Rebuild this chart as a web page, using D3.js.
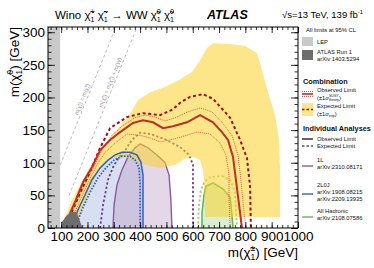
<!DOCTYPE html>
<html>
<head>
<meta charset="utf-8">
<script src="https://cdn.jsdelivr.net/npm/d3@7"></script>
<style>
body { margin: 0; background: #fff; }
svg { display: block; font-family: "Liberation Sans", Arial, Helvetica, sans-serif; }
</style>
</head>
<body>
<svg id="chart" width="374" height="268"></svg>
<script>
// ticks
var xTicks = [100, 200, 300, 400, 500, 600, 700, 800, 900, 1000];
var yTicks = [0, 50, 100, 150, 200, 250, 300];

// kinematic limits and previous results (GeV)
var lepLimit = 96;
var mW = 80.4;
var run1 = [[99, 0], [103, 9], [118, 18], [137, 25], [156, 25], [168, 15], [175, 6], [183, 0]];

// combination: expected band edges, expected, observed and theory +-1 sigma
var expBandUp = [[107, 0], [118, 20], [141, 43], [172, 66], [202, 89], [248, 116], [286, 138], [324, 156],
    [362, 175], [392, 196], [438, 208], [495, 216], [552, 228], [597, 239], [628, 257], [654, 276],
    [677, 283], [742, 282], [799, 279], [844, 268], [863, 242], [886, 208], [913, 173], [928, 135],
    [932, 89], [932, 17]];
var expBandDown = [[160, 0], [175, 25], [198, 47], [221, 70], [248, 92], [278, 104], [316, 109], [362, 106],
    [419, 97], [476, 92], [533, 97], [571, 106], [601, 109], [628, 104], [639, 89], [643, 66], [647, 17]];
var expComb = [[118, 0], [141, 25], [172, 54], [210, 86], [248, 123], [286, 153], [350, 170], [411, 176],
    [476, 173], [525, 182], [552, 192], [590, 201], [639, 205], [677, 198], [742, 169], [780, 135],
    [806, 107], [818, 63], [821, 0]];
var obsComb = [[118, 0], [134, 23], [156, 43], [183, 70], [217, 93], [248, 119], [286, 135], [324, 147],
    [373, 161], [411, 165], [449, 162], [487, 153], [525, 156], [578, 162], [628, 173], [677, 162],
    [711, 147], [734, 135], [753, 109], [764, 74], [780, 23], [787, 0]];
var obsCombUp = [[126, 0], [141, 23], [168, 47], [198, 74], [229, 97], [259, 123], [293, 142], [331, 156],
    [381, 169], [419, 173], [457, 170], [495, 164], [533, 169], [582, 178], [628, 184], [673, 178],
    [711, 162], [749, 142], [772, 112], [783, 74], [795, 23], [802, 0]];
var obsCombDown = [[134, 0], [149, 20], [172, 43], [202, 69], [236, 97], [267, 116], [305, 130], [350, 144],
    [400, 142], [438, 138], [476, 132], [514, 135], [552, 139], [616, 147], [666, 144], [704, 130],
    [726, 112], [738, 81], [738, 43], [742, 0]];

// individual analyses
var obs1L = [[297, 0], [301, 35], [312, 66], [331, 89], [354, 109], [381, 123], [400, 129], [430, 123],
    [464, 112], [495, 100], [510, 81], [517, 43], [521, 0]];
var exp1L = [[248, 0], [259, 35], [278, 74], [297, 93], [316, 106], [343, 119], [369, 135], [400, 146],
    [438, 144], [495, 136], [552, 124], [586, 112], [601, 97], [601, 58], [601, 0]];
var obs2L0J = [[141, 0], [164, 28], [191, 51], [217, 74], [248, 92], [278, 104], [305, 112], [331, 116],
    [362, 116], [388, 112], [403, 101], [411, 81], [411, 43], [411, 0]];
var exp2L0J = [[153, 0], [179, 28], [210, 55], [240, 77], [270, 92], [301, 104], [331, 110], [362, 110],
    [381, 104], [396, 92], [400, 66], [400, 0]];
var obsHad = [[635, 0], [635, 23], [643, 51], [650, 64], [677, 69], [715, 60], [742, 47], [749, 20], [753, 0]];
var expHad = [[620, 0], [624, 35], [631, 58], [643, 70], [666, 78], [711, 80], [745, 72], [761, 55], [764, 28], [768, 0]];

var cRed = "#bf2f24", cDark = "#a50d0d", cPurple = "#8d5aa0", cPurpleD = "#6a3b8c",
    cBlue = "#2f62c2", cGreen = "#5fb85a", cGreenL = "#9bd46a";

var svg = d3.select("#chart");
var x = d3.scaleLinear().domain([50, 1000]).range([48, 298]);
var y = d3.scaleLinear().domain([0, 308]).range([228, 27]);

var line = d3.line()
    .x(function (d) { return x(d[0]); })
    .y(function (d) { return y(d[1]); });

// text with stacked super/subscripts
function rich(t, parts, fs) {
    var cur = 0, pad = 0;
    parts.forEach(function (p) {
        if (typeof p === "string") {
            t.append("tspan").attr("dx", pad).attr("dy", -cur).text(p);
            cur = 0; pad = 0;
        } else {
            var sfs = fs * 0.62, w1 = 0, w2 = 0;
            if (p.sup) {
                var s = t.append("tspan").attr("font-size", sfs).attr("dx", pad)
                    .attr("dy", -0.42 * fs - cur).text(p.sup);
                w1 = s.node().getComputedTextLength();
                cur = -0.42 * fs; pad = 0;
            }
            if (p.sub) {
                var b = t.append("tspan").attr("font-size", sfs).attr("dx", p.sup ? -w1 : pad)
                    .attr("dy", 0.24 * fs - cur).text(p.sub);
                w2 = b.node().getComputedTextLength();
                cur = 0.24 * fs;
            }
            pad = (p.sup && p.sub) ? Math.max(0, w1 - w2) : 0;
        }
    });
}
var CHI = "\u03C7\u0303";

svg.append("clipPath").attr("id", "plotclip")
    .append("rect").attr("x", 48).attr("y", 27).attr("width", 250).attr("height", 201);

var plot = svg.append("g").attr("clip-path", "url(#plotclip)");

// filled observed regions of single analyses
plot.append("path").attr("d", line(obs2L0J) + "Z").attr("fill", "#a8b9e2").attr("fill-opacity", 0.45);
plot.append("path").attr("d", line(obs1L) + "Z").attr("fill", "#bea2c9").attr("fill-opacity", 0.42);
plot.append("path").attr("d", line(obsHad) + "Z").attr("fill", "#a9dc9f").attr("fill-opacity", 0.45);

// kinematic diagonals
var diag = [[50, 50], [320, 320]];
var diagW = [[50 + mW, 50], [320 + mW, 320]];
plot.selectAll("path.diag").data([diag, diagW]).enter().append("path")
    .attr("class", "diag")
    .attr("d", function (d) { return line(d); })
    .attr("fill", "none").attr("stroke", "#aaaaaa").attr("stroke-width", 0.8)
    .attr("stroke-dasharray", "3,2.5");

var ang = Math.atan2(y(300) - y(0), x(300) - x(0)) * 180 / Math.PI;
function diagLabel(mx, my, parts) {
    var t = plot.append("text")
        .attr("transform", "translate(" + (x(mx) - 2.5) + "," + y(my) + ") rotate(" + ang + ")")
        .attr("text-anchor", "middle").attr("font-size", 5.6).attr("fill", "#999");
    rich(t, parts, 5.6);
}
diagLabel(196, 196, ["m(" + CHI, { sup: "\u00B1", sub: "1" }, ") = m(" + CHI, { sup: "0", sub: "1" }, ")"]);
diagLabel(222 + mW, 222, ["m(" + CHI, { sup: "\u00B1", sub: "1" }, ") = m(" + CHI, { sup: "0", sub: "1" }, ") + m(W)"]);

// single analysis contours under the band
plot.append("path").attr("d", line(exp1L)).attr("fill", "none").attr("stroke", cPurpleD)
    .attr("stroke-width", 1.8).attr("stroke-dasharray", "2.2,2.2");
plot.append("path").attr("d", line(obs1L)).attr("fill", "none").attr("stroke", cPurple).attr("stroke-width", 1.4);
plot.append("path").attr("d", line(expHad)).attr("fill", "none").attr("stroke", cGreenL)
    .attr("stroke-width", 1.8).attr("stroke-dasharray", "2.2,2.2");
plot.append("path").attr("d", line(obsHad)).attr("fill", "none").attr("stroke", cGreen).attr("stroke-width", 1.6);

// expected +-1 sigma band of the combination
plot.append("path")
    .attr("d", line(expBandUp.concat(expBandDown.slice().reverse())) + "Z")
    .attr("fill", "#fcd12a").attr("fill-opacity", 0.55);

plot.append("path").attr("d", line(exp2L0J)).attr("fill", "none").attr("stroke", cBlue)
    .attr("stroke-width", 1.8).attr("stroke-dasharray", "1.6,1.4");
plot.append("path").attr("d", line(obs2L0J)).attr("fill", "none").attr("stroke", cBlue).attr("stroke-width", 1.5);

// combination
[obsCombUp, obsCombDown].forEach(function (c) {
    plot.append("path").attr("d", line(c)).attr("fill", "none").attr("stroke", "#d23a2e")
        .attr("stroke-width", 0.8).attr("stroke-dasharray", "1,1");
});
plot.append("path").attr("d", line(expComb)).attr("fill", "none").attr("stroke", cDark)
    .attr("stroke-width", 2).attr("stroke-dasharray", "3,2.6");
plot.append("path").attr("d", line(obsComb)).attr("fill", "none").attr("stroke", cRed).attr("stroke-width", 2);

// previous limits
plot.append("path").attr("d", line(run1) + "Z").attr("fill", "#6d6d6d");
plot.append("rect").attr("x", x(50)).attr("y", y(308)).attr("width", x(lepLimit) - x(50))
    .attr("height", y(0) - y(308)).attr("fill", "#c9c9c9");

// axes, ROOT style ticks inside
var fsTick = 13.5;
function axisPair(axisFn, scale, major, minor, lenMaj, lenMin, labels, tr) {
    var gMin = svg.append("g").attr("transform", tr)
        .call(axisFn(scale).tickValues(minor).tickSize(-lenMin).tickFormat(""));
    var gMaj = svg.append("g").attr("transform", tr)
        .call(axisFn(scale).tickValues(major).tickSize(-lenMaj).tickPadding(labels ? 3 : 0)
            .tickFormat(labels ? d3.format("d") : ""));
    [gMin, gMaj].forEach(function (g) {
        g.select(".domain").remove();
        g.selectAll("line").attr("stroke", "#000").attr("stroke-width", 0.8);
        g.selectAll("text").attr("font-size", fsTick).attr("font-family", "Liberation Sans, Arial, sans-serif").attr("fill", "#000");
    });
    return gMaj;
}
var xMinor = d3.range(60, 1001, 20);
var yMinor = d3.range(0, 309, 10);
axisPair(d3.axisBottom, x, xTicks, xMinor, 6, 3, true, "translate(0,228)");
axisPair(d3.axisTop, x, xTicks, xMinor, 6, 3, false, "translate(0,27)");
axisPair(d3.axisLeft, y, yTicks, yMinor, 7, 3.5, true, "translate(48,0)");
axisPair(d3.axisRight, y, yTicks, yMinor, 7, 3.5, false, "translate(298,0)");

svg.append("rect").attr("x", 48).attr("y", 27).attr("width", 250).attr("height", 201)
    .attr("fill", "none").attr("stroke", "#000").attr("stroke-width", 1);

// axis titles
var xt = svg.append("text").attr("x", 298).attr("y", 257).attr("text-anchor", "end").attr("font-size", 13.5);
rich(xt, ["m(" + CHI, { sup: "\u00B1", sub: "1" }, ") [GeV]"], 13.5);
var yt = svg.append("text").attr("transform", "translate(19,27) rotate(-90)")
    .attr("text-anchor", "end").attr("font-size", 13.5);
rich(yt, ["m(" + CHI, { sup: "0", sub: "1" }, ") [GeV]"], 13.5);

// header
var tt = svg.append("text").attr("x", 55).attr("y", 19).attr("font-size", 11.5);
rich(tt, ["Wino " + CHI, { sup: "+", sub: "1" }, " " + CHI, { sup: "\u2212", sub: "1" }, " \u2192 WW " + CHI,
    { sup: "0", sub: "1" }, " " + CHI, { sup: "0", sub: "1" }], 11.5);
svg.append("text").attr("x", 207).attr("y", 19).attr("font-size", 12.5)
    .attr("font-weight", "bold").attr("font-style", "italic").text("ATLAS");
var en = svg.append("text").attr("x", 282).attr("y", 18).attr("font-size", 9.5);
rich(en, ["\u221As=13 TeV, 139 fb", { sup: "-1" }], 9.5);

// legend
var lg = svg.append("g");
var fsL = 5.8;
function ltext(px, py, parts, bold) {
    var t = lg.append("text").attr("x", px).attr("y", py).attr("font-size", bold ? 7.3 : fsL)
        .attr("font-weight", bold ? "bold" : "normal").attr("fill", "#111");
    rich(t, typeof parts === "string" ? [parts] : parts, bold ? 7.3 : fsL);
}
function lline(py, color, width, dash) {
    lg.append("line").attr("x1", 302).attr("x2", 313).attr("y1", py).attr("y2", py)
        .attr("stroke", color).attr("stroke-width", width).attr("stroke-dasharray", dash || null);
}
ltext(306, 32, "All limits at 95% CL");
lg.append("rect").attr("x", 302).attr("y", 37).attr("width", 11).attr("height", 9).attr("fill", "#c9c9c9");
ltext(317, 44, "LEP");
lg.append("rect").attr("x", 302).attr("y", 50).attr("width", 11).attr("height", 10).attr("fill", "#6d6d6d");
ltext(317, 54, "ATLAS Run 1");
ltext(317, 61, "arXiv:1403.5294");

ltext(303, 84, "Combination", true);
lline(91.5, "#d23a2e", 0.8, "1,1");
lline(94, cRed, 1.6);
lline(96.5, "#d23a2e", 0.8, "1,1");
ltext(317, 92, "Observed Limit");
ltext(317, 99.5, ["(\u00B11\u03C3", { sup: "SUSY", sub: "theory" }, ")"]);
lg.append("rect").attr("x", 302).attr("y", 103).attr("width", 11).attr("height", 13).attr("fill", "#fde68a");
lline(109.5, cDark, 1.6, "2.5,2");
ltext(317, 108, "Expected Limit");
ltext(317, 115.5, ["(\u00B11\u03C3", { sub: "exp" }, ")"]);

ltext(303, 131, "Individual Analyses", true);
lline(139, "#000", 1.2);
ltext(317, 141, "Observed Limit");
lline(146, "#000", 1.2, "2.5,2");
ltext(317, 148, "Expected Limit");

lline(166, cPurple, 1.4);
ltext(317, 162, "1L");
ltext(317, 169, "arXiv:2310.08171");
lline(194, cBlue, 1.4);
ltext(317, 187, "2L0J");
ltext(317, 194, "arXiv:1908.08215");
ltext(317, 201, "arXiv:2209.13935");
lline(217, cGreen, 1.4);
ltext(317, 213, "All Hadronic");
ltext(317, 220, "arXiv:2108.07586");
</script>
</body>
</html>
